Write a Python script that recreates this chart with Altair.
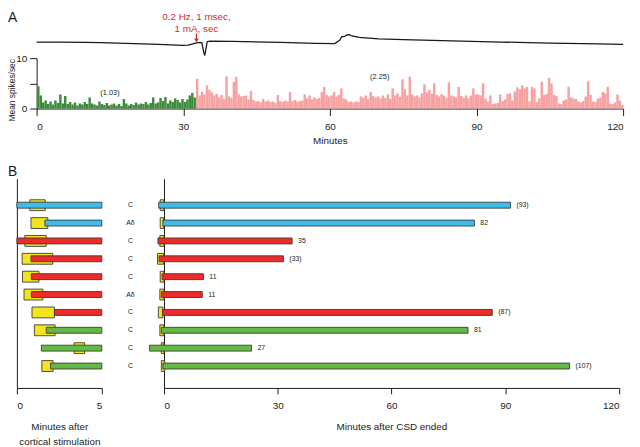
import altair as alt
import pandas as pd

# ---------------- Panel A data ----------------
BIN_MIN = 0.5
rate_before = [
    4.4, 2.6, 1.2, 1.6, 0.9, 1.4, 0.8, 1.6, 1.1, 2.8,
    1.0, 2.5, 0.9, 1.3, 0.8, 1.2, 0.6, 1.0, 0.8, 1.3,
    0.9, 2.2, 1.0, 0.8, 0.6, 1.4, 0.9, 0.7, 1.1, 0.6,
    0.8, 1.0, 0.6, 0.9, 0.5, 1.9, 1.0, 0.6, 0.9, 0.7,
    1.2, 0.8, 1.0, 0.9, 1.3, 0.8, 1.1, 2.2, 1.0, 1.2,
    2.1, 1.5, 2.3, 1.0, 1.6, 1.3, 2.0, 1.7, 1.2, 1.9,
    1.3, 1.8, 2.6, 3.1, 2.2,
]
rate_after = [
    5.9, 2.6, 3.3, 2.8, 4.6,
    3.7, 3.2, 2.6, 2.9, 2.2, 2.7, 1.9, 6.4, 2.4, 2.1,
    5.3, 6.3, 2.8, 2.4, 2.5, 2.6, 1.8, 3.5, 1.7, 1.4,
    1.5, 1.2, 1.9, 1.4, 1.6, 1.3, 1.4, 1.1, 2.7, 1.5,
    1.3, 1.6, 1.4, 3.3, 1.5, 1.7, 1.4, 1.5, 1.6, 2.8,
    2.0, 2.6, 1.8, 2.2, 1.9, 2.1, 3.3, 4.3, 2.7, 2.4,
    2.6, 3.3, 2.4, 2.7, 4.0, 2.0, 1.8, 1.3, 1.4, 1.2,
    1.4, 1.3, 2.4, 2.1, 2.6, 1.9, 3.3, 2.5, 2.2, 2.4,
    2.0, 2.6, 2.1, 2.8, 1.9, 4.0, 2.6, 3.0, 2.3, 5.8,
    3.8, 2.6, 6.3, 2.8, 2.4, 2.6, 2.2, 3.0, 4.8, 3.2,
    3.7, 3.0, 5.0, 2.7, 2.4, 2.9, 2.6, 2.1, 5.2, 2.6,
    2.4, 2.2, 4.3, 2.5, 2.1, 2.6, 2.0, 2.6, 4.0, 2.8,
    2.8, 2.6, 5.0, 2.0, 1.4, 2.6, 0.9, 1.0, 1.1, 2.8,
    1.5, 1.8, 2.9, 3.0, 1.6, 3.4, 4.2, 3.8, 4.6, 4.0,
    4.3, 1.4, 4.3, 4.0, 1.3, 2.0, 5.3, 2.7, 2.9, 6.1,
    5.0, 2.7, 2.5, 1.0, 0.9, 1.6, 1.8, 4.3, 2.2, 2.0,
    1.9, 1.4, 1.2, 1.5, 2.4, 5.4, 2.7, 1.4, 1.3, 2.0,
    2.2, 3.3, 3.0, 4.3, 1.0, 0.9, 1.2, 2.8, 1.6, 0.7,
]
trace_minute = [0, 5, 10, 13, 20, 25, 30, 31, 32.5, 33.4, 33.8, 34.2, 34.4, 34.7,
                34.9, 35.5, 40, 50, 57, 61, 62, 62.4, 63, 63.5, 64, 64.5, 66, 70,
                75, 85, 95, 105, 115, 120]
trace_level = [67.3, 67.2, 67.0, 66.7, 65.8, 65.0, 64.0, 64.2, 66.3, 67.0, 66.5, 57.0,
               53.7, 62.0, 67.7, 68.3, 68.0, 67.0, 66.0, 65.7, 69.0, 72.7, 73.0, 74.5,
               74.7, 73.5, 72.0, 70.5, 69.7, 68.5, 67.3, 66.3, 65.5, 65.0]
stim_minute = 32.7
stim_label = ["0.2 Hz, 1 msec,", "1 mA, sec"]
mean_labels = ["(1.03)", "(2.25)"]
mean_label_minute = [15.0, 70.2]
mean_label_rate = [3.1, 6.3]

# ---------------- Panel B data ----------------
row_id = [1, 2, 3, 4, 5, 6, 7, 8, 9, 10]
fiber_type = ["C", "Aδ", "C", "C", "C", "Aδ", "C", "C", "C", "C"]
neuron_group = ["blue", "blue", "red", "red", "red", "red", "red", "green", "green", "green"]
cs_response_start = [0.0, 1.65, 0.0, 0.83, 0.85, 0.85, 2.21, 1.73, 1.44, 1.98]
cs_response_end = [5, 5, 5, 5, 5, 5, 5, 5, 5, 5]
cs_csd_start = [0.76, 0.83, 0.47, 0.31, 0.33, 0.42, 0.89, 1.03, 3.37, 1.47]
cs_csd_end = [1.67, 1.82, 1.73, 2.11, 1.30, 1.53, 2.21, 2.25, 3.99, 2.13]
csd_response_start = [-1.4, -0.3, -1.6, -1.3, -0.5, -0.7, -0.4, -0.7, -3.8, -0.3]
csd_response_end = [91.4, 81.9, 33.8, 31.5, 10.4, 10.1, 86.6, 80.2, 23.1, 107.0]
csd_box_start = [-1.0, -1.0, -1.1, -1.7, -1.0, -1.1, -1.5, -1.1, -0.7, -0.7]
csd_box_end = [0.0, -0.1, 0.0, -0.1, 0.0, 0.0, -0.3, 0.0, 0.0, 0.2]
duration_label = ["(93)", "82", "35", "(33)", "11", "11", "(87)", "81", "27", "(107)"]

# ---------------- layout / style ----------------
W, H = 632, 439
X_A = [29, 623]
Y_A_HIST = [99, 48]
Y_A_TRACE = [99, 20]
X_BL = [9, 95]
X_BR = [158, 618.7]
Y_ROWS = [170, 382]
FONT = "Liberation Sans"
INK = "#1a1a1a"
RED_TXT = "#d42a2a"
C_GREEN_H = "#3d8b3d"
C_PINK_H = "#f7a1a1"
C_BLUE = "#3dbdec"
C_RED = "#ee2a2a"
C_GREEN = "#63b944"
C_YELLOW = "#f4e41c"
EDGE = "#3c3c3c"

n_b = len(rate_before)
rates = rate_before + rate_after
hist_df = pd.DataFrame({
    "start": [i * BIN_MIN for i in range(len(rates))],
    "end": [(i + 1) * BIN_MIN for i in range(len(rates))],
    "rate": rates,
    "phase": ["before"] * n_b + ["after"] * len(rate_after),
})
trace_df = pd.DataFrame({"minute": trace_minute, "level": trace_level})
mean_df = pd.DataFrame({"minute": mean_label_minute, "rate": mean_label_rate, "label": mean_labels})
one = pd.DataFrame({"k": [0]})

b_df = pd.DataFrame({
    "row": row_id, "fiber": fiber_type, "group": neuron_group,
    "cs_rs": cs_response_start, "cs_re": cs_response_end,
    "cs_cs": cs_csd_start, "cs_ce": cs_csd_end,
    "csd_rs": csd_response_start, "csd_re": csd_response_end,
    "csd_bs": csd_box_start, "csd_be": csd_box_end,
    "label": duration_label,
})

# ---------------- scales & axes (shared within each panel) ----------------
def xa_scale():
    return alt.Scale(domain=[0, 120], range=X_A, nice=False, zero=False)

XA_AXIS = alt.Axis(orient="bottom", offset=99 - H, values=[0, 30, 60, 90, 120],
                   tickSize=7, labelPadding=6, title="Minutes", titlePadding=4)
YA_SCALE = alt.Scale(domain=[0, 10], range=Y_A_HIST, nice=False, zero=False)
YA_AXIS = alt.Axis(orient="left", offset=-29, values=[0, 5, 10],
                   labelExpr="datum.value == 5 ? '' : datum.label",
                   tickSize=7, labelPadding=3, title="Mean spikes/sec",
                   titleFontSize=8.5, titleX=-22, titleY=80, titleAngle=270,
                   titleBaseline="alphabetic", titleAlign="center")

ROW_SCALE = alt.Scale(domain=[-0.21, 10.95], range=Y_ROWS, nice=False, zero=False)
ROW_AXIS_L = alt.Axis(orient="left", offset=-9, ticks=False, labels=False, title="")
ROW_AXIS_R = alt.Axis(orient="left", offset=-158, ticks=False, labels=False, title="")
XBL_SCALE = alt.Scale(domain=[0, 5], range=X_BL, nice=False, zero=False)
XBL_AXIS = alt.Axis(orient="bottom", offset=382 - H, values=[0, 5], tickSize=6,
                    labelPadding=7, title=["Minutes after", "cortical stimulation"],
                    titlePadding=11, titleLineHeight=15)
XBR_SCALE = alt.Scale(domain=[0, 120], range=X_BR, nice=False, zero=False)
XBR_AXIS = alt.Axis(orient="bottom", offset=382 - H, values=[0, 30, 60, 90, 120],
                    tickSize=6, labelPadding=7, title="Minutes after CSD ended",
                    titlePadding=11)

# ---------------- Panel A ----------------
hist = alt.Chart(hist_df).mark_bar(binSpacing=0).encode(
    x=alt.X("start:Q", bin="binned", scale=xa_scale(), axis=XA_AXIS),
    x2="end:Q",
    y=alt.Y("rate:Q", scale=YA_SCALE, stack=None, axis=YA_AXIS),
    color=alt.Color("phase:N", scale=alt.Scale(domain=["before", "after"],
                                               range=[C_GREEN_H, C_PINK_H]), legend=None),
)
mean_txt = alt.Chart(mean_df).mark_text(fontSize=7.5, color=INK, font=FONT).encode(
    x=alt.X("minute:Q", axis=XA_AXIS), y=alt.Y("rate:Q", axis=YA_AXIS), text="label:N")
arrow = alt.Chart(one).mark_rule(color=RED_TXT, strokeWidth=1.2).encode(
    x=alt.X(datum=stim_minute, axis=XA_AXIS), y=alt.value(23), y2=alt.value(29))
arrow_head = alt.Chart(one).mark_point(shape="triangle-down", filled=True, size=22,
                                       color=RED_TXT, opacity=1).encode(
    x=alt.X(datum=stim_minute, axis=XA_AXIS), y=alt.value(30))
stim1 = alt.Chart(one).mark_text(text=stim_label[0], fontSize=10, color=RED_TXT, font=FONT,
                                 baseline="alphabetic").encode(
    x=alt.X(datum=stim_minute, axis=XA_AXIS), y=alt.value(9))
stim2 = alt.Chart(one).mark_text(text=stim_label[1], fontSize=10, color=RED_TXT, font=FONT,
                                 baseline="alphabetic").encode(
    x=alt.X(datum=stim_minute, axis=XA_AXIS), y=alt.value(21))
A_main = alt.layer(hist, mean_txt, arrow, arrow_head, stim1, stim2)

trace = alt.Chart(trace_df).mark_line(color=INK, strokeWidth=1.3).encode(
    x=alt.X("minute:Q", scale=xa_scale(), axis=None),
    y=alt.Y("level:Q", scale=alt.Scale(domain=[0, 79], range=Y_A_TRACE, nice=False, zero=False),
            axis=None),
)

# ---------------- Panel B ----------------
grp_scale = alt.Scale(domain=["blue", "red", "green"], range=[C_BLUE, C_RED, C_GREEN])

bl_box = alt.Chart(b_df).mark_bar(orient="horizontal", size=11, color=C_YELLOW, stroke=EDGE,
                                  strokeWidth=0.9).encode(
    x=alt.X("cs_cs:Q", scale=XBL_SCALE, axis=XBL_AXIS),
    x2="cs_ce:Q",
    y=alt.Y("row:Q", scale=ROW_SCALE, axis=ROW_AXIS_L),
)
bl_bar = alt.Chart(b_df).mark_bar(orient="horizontal", size=6, stroke=EDGE, strokeWidth=0.9).encode(
    x=alt.X("cs_rs:Q", axis=XBL_AXIS), x2="cs_re:Q",
    y=alt.Y("row:Q", axis=ROW_AXIS_L),
    color=alt.Color("group:N", scale=grp_scale, legend=None),
)
B_left = alt.layer(bl_box, bl_bar)

br_box = alt.Chart(b_df).mark_bar(orient="horizontal", size=11, color=C_YELLOW, stroke=EDGE,
                                  strokeWidth=0.9).encode(
    x=alt.X("csd_bs:Q", scale=XBR_SCALE, axis=XBR_AXIS),
    x2="csd_be:Q",
    y=alt.Y("row:Q", scale=ROW_SCALE, axis=ROW_AXIS_R),
)
br_bar = alt.Chart(b_df).mark_bar(orient="horizontal", size=6, stroke=EDGE, strokeWidth=0.9).encode(
    x=alt.X("csd_rs:Q", axis=XBR_AXIS), x2="csd_re:Q",
    y=alt.Y("row:Q", axis=ROW_AXIS_R),
    color=alt.Color("group:N", scale=grp_scale, legend=None),
)
br_lab = alt.Chart(b_df).mark_text(align="left", dx=6, fontSize=7, color=INK, font=FONT).encode(
    x=alt.X("csd_re:Q", axis=XBR_AXIS), y=alt.Y("row:Q", axis=ROW_AXIS_R), text="label:N")
fib_lab = alt.Chart(b_df).mark_text(align="center", fontSize=7, color=INK, font=FONT).encode(
    x=alt.value(124), y=alt.Y("row:Q", axis=ROW_AXIS_R), text="fiber:N")
B_right = alt.layer(br_box, br_bar, br_lab, fib_lab)

letters = alt.layer(
    alt.Chart(one).mark_text(text="A", fontSize=14, align="left", baseline="alphabetic",
                             color=INK, font=FONT).encode(x=alt.value(0), y=alt.value(11)),
    alt.Chart(one).mark_text(text="B", fontSize=14, align="left", baseline="alphabetic",
                             color=INK, font=FONT).encode(x=alt.value(0), y=alt.value(167)),
)

chart = alt.layer(A_main, trace, B_left, B_right, letters).resolve_scale(
    x="independent", y="independent", color="independent"
).properties(
    width=W, height=H, autosize=alt.AutoSizeParams(type="none"), padding=0
).configure_view(stroke=None).configure_axis(
    grid=False, domainColor=INK, tickColor=INK, labelColor=INK, titleColor=INK,
    labelFont=FONT, titleFont=FONT, labelFontSize=10, titleFontSize=10,
    titleFontWeight="normal", domainWidth=1, tickWidth=1,
)

chart.save("out.html", embed_options={"renderer": "svg", "actions": False})
